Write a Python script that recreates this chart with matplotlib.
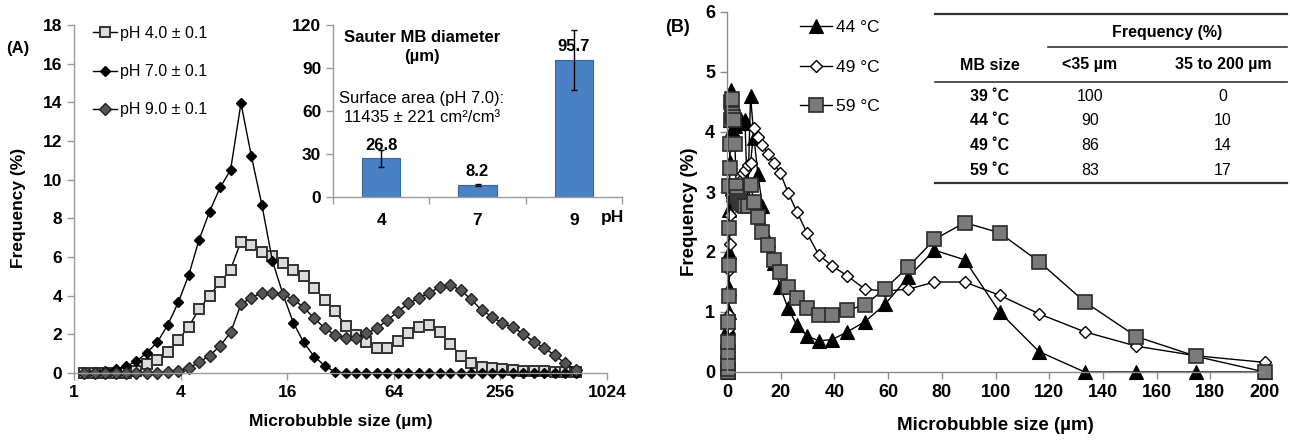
import matplotlib
matplotlib.use("Agg")
import matplotlib.pyplot as plt
from matplotlib.lines import Line2D

# ----------------------------
# DATA
# ----------------------------
# panel A: size bins (um), log spaced
size_a = [1.14, 1.31, 1.50, 1.72, 1.97, 2.25, 2.58, 2.96, 3.39, 3.88,
          4.44, 5.09, 5.83, 6.69, 7.66, 8.77, 10.05, 11.51, 13.20, 15.11,
          17.32, 19.84, 22.73, 26.04, 29.84, 34.18, 39.15, 44.85, 51.41, 58.89,
          67.46, 77.28, 88.53, 101.5, 116.2, 133.2, 152.5, 174.8, 200.3, 229.4,
          262.8, 301.1, 344.9, 395.3, 452.9, 518.8, 594.3, 680.8]

ph4 = [0, 0, 0, 0, 0, 0.1, 0.45, 0.65, 1.1, 1.7,
       2.4, 3.3, 4.0, 4.7, 5.35, 6.8, 6.6, 6.25, 6.05, 5.7,
       5.35, 5.0, 4.4, 3.8, 3.2, 2.45, 1.96, 1.6, 1.28, 1.28,
       1.68, 2.07, 2.4, 2.46, 2.12, 1.52, 0.9, 0.5, 0.33, 0.25,
       0.2, 0.15, 0.12, 0.1, 0.08, 0.06, 0.05, 0.03]

ph7 = [0, 0.05, 0.1, 0.2, 0.36, 0.6, 1.05, 1.6, 2.5, 3.65,
       5.05, 6.9, 8.35, 9.6, 10.5, 13.95, 11.2, 8.7, 5.8, 4.1,
       2.6, 1.58, 0.85, 0.38, 0.05, 0, 0, 0, 0, 0,
       0, 0, 0, 0, 0, 0, 0, 0, 0, 0,
       0, 0, 0, 0, 0, 0, 0, 0]

ph9 = [0, 0, 0, 0, 0, 0, 0, 0.02, 0.05, 0.12,
       0.25, 0.55, 0.9, 1.4, 2.1, 3.55, 3.9, 4.15, 4.15, 4.08,
       3.8, 3.4, 2.82, 2.33, 1.96, 1.8, 1.8, 2.05, 2.31, 2.74,
       3.17, 3.6, 3.86, 4.16, 4.43, 4.55, 4.29, 3.81, 3.26, 2.91,
       2.57, 2.36, 2.02, 1.62, 1.28, 0.93, 0.5, 0.17]

# inset: Sauter diameter
ph_cat = ["4", "7", "9"]
sauter = [26.8, 8.2, 95.7]
sauter_err = [6.0, 0.8, 21.0]

# panel B: size bins (um)
size_b = [0.26, 0.29, 0.34, 0.39, 0.44, 0.50, 0.58, 0.66, 0.76, 0.87,
          1.00, 1.14, 1.31, 1.50, 1.72, 1.97, 2.25, 2.58, 2.96, 3.39,
          3.88, 4.44, 5.09, 5.83, 6.69, 7.66, 8.77, 10.05, 11.51, 13.20,
          15.11, 17.32, 19.84, 22.73, 26.04, 29.84, 34.18, 39.15, 44.85, 51.41,
          58.89, 67.46, 77.28, 88.53, 101.5, 116.2, 133.2, 152.5, 174.8, 200.3]

t44 = [0, 0.02, 0.1, 0.25, 0.45, 0.75, 1.0, 1.4, 2.0, 2.7,
       3.5, 4.2, 4.7, 4.5, 4.2, 4.05, 4.0, 3.95, 4.1, 4.2,
       4.2, 4.15, 4.2, 4.15, 4.2, 2.8, 4.6, 3.9, 3.3, 2.76,
       2.2, 1.81, 1.41, 1.06, 0.78, 0.6, 0.52, 0.54, 0.67, 0.84,
       1.13, 1.58, 2.03, 1.87, 1.0, 0.34, 0, 0, 0, 0]

t49 = [0, 0.02, 0.08, 0.2, 0.35, 0.55, 0.73, 0.95, 1.3, 1.7,
       2.14, 2.62, 2.98, 2.95, 2.9, 2.85, 2.85, 2.9, 3.0, 3.09,
       3.1, 3.1, 3.2, 3.31, 3.37, 3.45, 3.48, 4.06, 3.92, 3.78,
       3.64, 3.48, 3.32, 2.99, 2.67, 2.31, 1.95, 1.77, 1.6, 1.38,
       1.35, 1.38, 1.5, 1.5, 1.28, 0.97, 0.67, 0.43, 0.27, 0.16]

t59 = [0, 0.05, 0.15, 0.34, 0.5, 0.84, 1.26, 1.78, 2.4, 3.1,
       3.4, 3.8, 4.2, 4.5, 4.55, 4.3, 4.25, 4.2, 3.8, 3.1,
       2.92, 2.85, 2.81, 2.78, 2.76, 2.76, 3.12, 2.84, 2.59, 2.34,
       2.12, 1.87, 1.67, 1.42, 1.23, 1.06, 0.95, 0.95, 1.03, 1.12,
       1.39, 1.75, 2.21, 2.49, 2.32, 1.84, 1.17, 0.59, 0.26, 0]

# table in panel B
tab_rows = ["39 \u02daC", "44 \u02daC", "49 \u02daC", "59 \u02daC"]
tab_lt35 = ["100", "90", "86", "83"]
tab_35_200 = ["0", "10", "14", "17"]

# ----------------------------
# HELPERS
# ----------------------------
W, H = 1290, 443


def fx(px):
    return px / W


def fy(py):
    return 1 - py / H


NARROW = ["Liberation Sans Narrow", "Liberation Sans", "DejaVu Sans"]
ARIAL = ["Liberation Sans", "DejaVu Sans"]
AXGREY = "#9a9a9a"

fig = plt.figure(figsize=(12.9, 4.43), dpi=100)


def style_axes(ax, color):
    for s in ["top", "right"]:
        ax.spines[s].set_visible(False)
    for s in ["left", "bottom"]:
        ax.spines[s].set_color(color)
        ax.spines[s].set_linewidth(1.0)
    ax.tick_params(axis="both", which="both", direction="out", color=color,
                   length=5, width=1.0)
    ax.patch.set_alpha(0)


# ----------------------------
# PANEL A
# ----------------------------
axA = fig.add_axes([fx(74), fy(373), fx(607) - fx(74), fy(25) - fy(373)])
style_axes(axA, AXGREY)
axA.set_xscale("log", base=2)
axA.set_xlim(1, 1024)
axA.set_ylim(0, 18)
axA.set_xticks([1, 4, 16, 64, 256, 1024])
axA.set_xticklabels(["1", "4", "16", "64", "256", "1024"])
axA.minorticks_off()
axA.set_yticks(range(0, 19, 2))
for lab in axA.get_xticklabels() + axA.get_yticklabels():
    lab.set_family(NARROW)
    lab.set_fontweight("bold")
    lab.set_fontsize(12.5)

axA.plot(size_a, ph4, "-s", color="black", lw=1.0, ms=7.6, mfc="#dcdcdc",
         mec="#333333", mew=1.4, label="pH 4.0 \u00b1 0.1", clip_on=False)
axA.plot(size_a, ph7, "-D", color="black", lw=1.0, ms=5.4, mfc="black",
         mec="black", mew=1.0, label="pH 7.0 \u00b1 0.1", clip_on=False)
axA.plot(size_a, ph9, "-D", color="black", lw=1.0, ms=5.8, mfc="#555555",
         mec="#222222", mew=1.0, label="pH 9.0 \u00b1 0.1", clip_on=False)

axA.set_xlabel("Microbubble size (\u00b5m)", family=NARROW, fontweight="bold",
               fontsize=12.5, labelpad=10)
axA.set_ylabel("Frequency (%)", family=NARROW, fontweight="bold",
               fontsize=12.5)
axA.yaxis.set_label_coords(-0.09, 0.475)

legA = axA.legend(loc="upper left", bbox_to_anchor=(fx(93), fy(26)),
                  bbox_transform=fig.transFigure, frameon=False, numpoints=1,
                  handlelength=1.5, handletextpad=0.2, labelspacing=1.45,
                  borderpad=0, borderaxespad=0,
                  prop={"family": NARROW, "size": 11.5})

fig.text(fx(18), fy(48), "(A)", family=NARROW, fontweight="bold",
         fontsize=12, ha="center", va="center")

# inset bar chart
axI = fig.add_axes([fx(333), fy(196.7), fx(622) - fx(333), fy(25) - fy(196.7)])
style_axes(axI, AXGREY)
xpos = range(len(ph_cat))
axI.bar(xpos, sauter, width=0.4, color="#4a80c4", edgecolor="#3465a4",
        linewidth=0.8, yerr=sauter_err, capsize=2.5,
        error_kw={"elinewidth": 1.0, "capthick": 1.0, "ecolor": "black"})
axI.set_xlim(-0.5, 2.5)
axI.set_ylim(0, 120)
axI.set_yticks(range(0, 121, 30))
axI.set_xticks(list(xpos))
axI.set_xticklabels(ph_cat)
axI.set_xticks([-0.5, 0.5, 1.5, 2.5], minor=True)
axI.tick_params(axis="x", which="major", length=0, pad=12)
axI.tick_params(axis="x", which="minor", length=5)
for lab in axI.get_xticklabels() + axI.get_yticklabels():
    lab.set_family(NARROW)
    lab.set_fontweight("bold")
    lab.set_fontsize(12.5)
for xi, v in zip(xpos, sauter):
    axI.annotate(f"{v:.1f}", (xi, v), xytext=(0, 4), textcoords="offset points",
                 ha="center", va="bottom", family=NARROW, fontweight="bold",
                 fontsize=12)
fig.text(fx(612), fy(217), "pH", family=NARROW, fontweight="bold",
         fontsize=12.5, ha="center", va="center")
fig.text(fx(422), fy(47), "Sauter MB diameter\n(\u00b5m)", family=NARROW,
         fontweight="bold", fontsize=12, ha="center", va="center",
         linespacing=1.3)
fig.text(fx(422), fy(108), "Surface area (pH 7.0):\n11435 \u00b1 221 cm\u00b2/cm\u00b3",
         family=NARROW, fontsize=12, ha="center", va="center", linespacing=1.25)

# ----------------------------
# PANEL B
# ----------------------------
BGREY = "#8a8a8a"
axB = fig.add_axes([fx(727), fy(372), fx(1264) - fx(727), fy(12) - fy(372)])
style_axes(axB, BGREY)
axB.set_xlim(0, 200)
axB.set_ylim(0, 6)
axB.set_xticks(range(0, 201, 20))
axB.set_yticks(range(0, 7))
for lab in axB.get_xticklabels() + axB.get_yticklabels():
    lab.set_family(ARIAL)
    lab.set_fontweight("bold")
    lab.set_fontsize(13)

axB.plot(size_b, t44, "-^", color="black", lw=1.0, ms=10.0, mfc="black",
         mec="black", mew=0.8, label="44 \u00b0C", clip_on=False)
axB.plot(size_b, t49, "-D", color="black", lw=1.0, ms=6.6, mfc="white",
         mec="black", mew=1.0, label="49 \u00b0C", clip_on=False)
axB.plot(size_b, t59, "-s", color="black", lw=1.0, ms=9.4, mfc="#7a7a7a",
         mec="#2a2a2a", mew=1.2, label="59 \u00b0C", clip_on=False)

axB.set_xlabel("Microbubble size (\u00b5m)", family=ARIAL, fontweight="bold",
               fontsize=13.5, labelpad=12)
axB.set_ylabel("Frequency (%)", family=ARIAL, fontweight="bold",
               fontsize=13.5)
axB.yaxis.set_label_coords(-0.054, 0.445)

axB.legend(loc="upper left", bbox_to_anchor=(fx(800), fy(20)),
           bbox_transform=fig.transFigure, frameon=False, numpoints=1,
           handlelength=1.85, handletextpad=0.2, labelspacing=1.4,
           borderpad=0, borderaxespad=0, prop={"family": ARIAL, "size": 12.5})

fig.text(fx(678), fy(27), "(B)", family=ARIAL, fontweight="bold",
         fontsize=13, ha="center", va="center")

# table
def hrule(x0, x1, y, lw):
    fig.add_artist(Line2D([fx(x0), fx(x1)], [fy(y), fy(y)],
                          transform=fig.transFigure, color="#333333", lw=lw))


hrule(935, 1287, 14, 1.6)
hrule(1048, 1287, 46.7, 1.2)
hrule(935, 1287, 81.7, 1.2)
hrule(935, 1287, 182.7, 1.6)

tkw = dict(family=ARIAL, fontsize=11.5, ha="center", va="center")
fig.text(fx(1167), fy(33), "Frequency (%)", fontweight="bold", **tkw)
fig.text(fx(990), fy(65), "MB size", fontweight="bold", **tkw)
fig.text(fx(1090), fy(65), "<35 \u00b5m", fontweight="bold", **tkw)
fig.text(fx(1223), fy(65), "35 to 200 \u00b5m", fontweight="bold", **tkw)
row_y = [96.7, 121, 145.7, 170.7]
for ry, name, a, b in zip(row_y, tab_rows, tab_lt35, tab_35_200):
    fig.text(fx(990), fy(ry), name, fontweight="bold", **tkw)
    fig.text(fx(1090), fy(ry), a, **tkw)
    fig.text(fx(1223), fy(ry), b, **tkw)

fig.savefig("out.png", dpi=100)
